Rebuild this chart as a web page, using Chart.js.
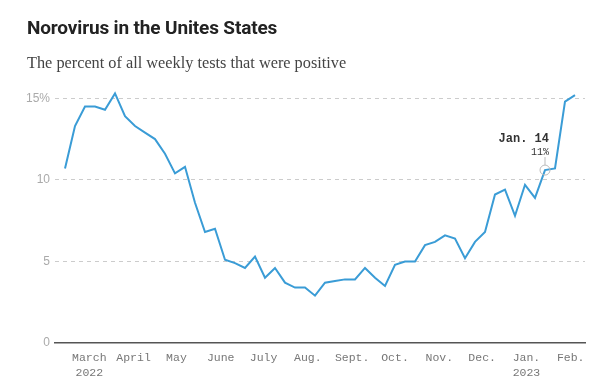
<!DOCTYPE html>
<html>
<head>
<meta charset="utf-8">
<script src="https://cdn.jsdelivr.net/npm/chart.js@4.4.0/dist/chart.umd.min.js"></script>
<style>
  body { margin: 0; background: #fff; }
  #wrap { position: relative; width: 612px; height: 385px; }
  #title { position: absolute; left: 27px; top: 16px; font: 700 19px Roboto, "Liberation Sans", sans-serif; color: #222; letter-spacing: -0.15px; }
  #subtitle { position: absolute; left: 27px; top: 53px; font: 16.3px "Liberation Serif", serif; color: #444; }
  canvas { position: absolute; left: 0; top: 0; }
</style>
</head>
<body>
<div id="wrap">
  <canvas id="myChart" width="612" height="385"></canvas>
  <div id="title">Norovirus in the Unites States</div>
  <div id="subtitle">The percent of all weekly tests that were positive</div>
</div>
<script>
// 주간 날짜 (토요일 기준)
var weeks = [
    '2022-02-12', '2022-02-19', '2022-02-26',
    '2022-03-05', '2022-03-12', '2022-03-19', '2022-03-26',
    '2022-04-02', '2022-04-09', '2022-04-16', '2022-04-23', '2022-04-30',
    '2022-05-07', '2022-05-14', '2022-05-21', '2022-05-28',
    '2022-06-04', '2022-06-11', '2022-06-18', '2022-06-25',
    '2022-07-02', '2022-07-09', '2022-07-16', '2022-07-23', '2022-07-30',
    '2022-08-06', '2022-08-13', '2022-08-20', '2022-08-27',
    '2022-09-03', '2022-09-10', '2022-09-17', '2022-09-24',
    '2022-10-01', '2022-10-08', '2022-10-15', '2022-10-22', '2022-10-29',
    '2022-11-05', '2022-11-12', '2022-11-19', '2022-11-26',
    '2022-12-03', '2022-12-10', '2022-12-17', '2022-12-24', '2022-12-31',
    '2023-01-07', '2023-01-14', '2023-01-21', '2023-01-28',
    '2023-02-04'
];

// 양성률 (%)
var positive = [
    10.7, 13.3, 14.5,
    14.5, 14.3, 15.3, 13.9,
    13.3, 12.9, 12.5, 11.6, 10.4,
    10.8, 8.6, 6.8, 7.0,
    5.1, 4.9, 4.6, 5.3,
    4.0, 4.6, 3.7, 3.4, 3.4,
    2.9, 3.7, 3.8, 3.9,
    3.9, 4.6, 4.0, 3.5,
    4.8, 5.0, 5.0, 6.0, 6.2,
    6.6, 6.4, 5.2, 6.2,
    6.8, 9.1, 9.4, 7.8, 9.7,
    8.9, 10.6, 10.7, 14.8,
    15.2
];

// x축 월 라벨
var monthStarts = ['2022-03-01', '2022-04-01', '2022-05-01', '2022-06-01', '2022-07-01', '2022-08-01',
                   '2022-09-01', '2022-10-01', '2022-11-01', '2022-12-01', '2023-01-01', '2023-02-01'];
var monthLabels = ['March', 'April', 'May', 'June', 'July', 'Aug.', 'Sept.', 'Oct.', 'Nov.', 'Dec.', 'Jan.', 'Feb.'];
var yearLabels  = ['2022', '', '', '', '', '', '', '', '', '', '2023', ''];

// y축 눈금
var yTicks = [0, 5, 10, 15];

// 강조 포인트
var highlightWeek = '2023-01-14';
var highlightLabel = 'Jan. 14';

var xMinDate = '2022-02-05';
var xMaxDate = '2023-02-11';

function toDay(s) {
    var p = s.split('-');
    return Date.UTC(+p[0], +p[1] - 1, +p[2]) / 86400000;
}

var points = weeks.map(function(w, i) {
    return { x: toDay(w), y: positive[i] };
});

var monoFont = '"Liberation Mono", "DejaVu Sans Mono", monospace';

// 1월 14일 주석 그리기
var highlightPlugin = {
    id: 'highlight',
    afterDatasetsDraw: function(chart) {
        var idx = weeks.indexOf(highlightWeek);
        if (idx < 0) return;
        var c = chart.ctx;
        var px = chart.scales.x.getPixelForValue(toDay(highlightWeek));
        var py = chart.scales.y.getPixelForValue(positive[idx]);
        c.save();
        c.strokeStyle = '#bbb';
        c.lineWidth = 1;
        c.beginPath();
        c.arc(px, py, 5, 0, Math.PI * 2);
        c.stroke();
        c.beginPath();
        c.moveTo(px, py - 5);
        c.lineTo(px, py - 13);
        c.stroke();
        c.textAlign = 'right';
        c.textBaseline = 'alphabetic';
        c.fillStyle = '#333';
        c.font = '10px ' + monoFont;
        c.fillText(Math.round(positive[idx]) + '%', px + 4, py - 15);
        c.font = 'bold 12px ' + monoFont;
        c.fillText(highlightLabel, px + 4, py - 28);
        c.restore();
    }
};

var ctx = document.getElementById('myChart').getContext('2d');
var myChart = new Chart(ctx, {
    type: 'line',
    data: {
        datasets: [{
            label: 'Positive tests',
            data: points,
            borderColor: '#3a9cd6',
            borderWidth: 2,
            pointRadius: 0,
            tension: 0,
            fill: false
        }]
    },
    options: {
        responsive: false,
        animation: false,
        layout: {
            padding: { top: 82, right: 27, left: 0, bottom: 0 }
        },
        plugins: {
            legend: { display: false },
            tooltip: { enabled: false }
        },
        scales: {
            x: {
                type: 'linear',
                min: toDay(xMinDate),
                max: toDay(xMaxDate),
                afterBuildTicks: function(axis) {
                    axis.ticks = monthStarts.map(function(m) { return { value: toDay(m) }; });
                },
                afterFit: function(axis) { axis.height = 42; },
                grid: { display: false },
                border: { display: true, color: '#555', width: 1.5 },
                ticks: {
                    autoSkip: false,
                    maxRotation: 0,
                    padding: -1,
                    color: '#777',
                    font: { family: monoFont, size: 11.5, lineHeight: 1.35 },
                    callback: function(value, index) {
                        return yearLabels[index] ? [monthLabels[index], yearLabels[index]] : monthLabels[index];
                    }
                }
            },
            y: {
                min: 0,
                max: 16,
                afterBuildTicks: function(axis) {
                    axis.ticks = yTicks.map(function(v) { return { value: v }; });
                },
                afterFit: function(axis) { axis.width = 55; },
                border: { display: false, dash: [4, 4] },
                grid: {
                    drawTicks: false,
                    color: function(c) { return c.tick && c.tick.value === 0 ? 'rgba(0,0,0,0)' : '#ccc'; },
                    lineWidth: 1
                },
                ticks: {
                    padding: 5,
                    color: '#aaa',
                    font: { family: '"Liberation Sans", sans-serif', size: 12 },
                    callback: function(value) {
                        return value === 15 ? '15%' : value;
                    }
                }
            }
        }
    },
    plugins: [highlightPlugin]
});
</script>
</body>
</html>
